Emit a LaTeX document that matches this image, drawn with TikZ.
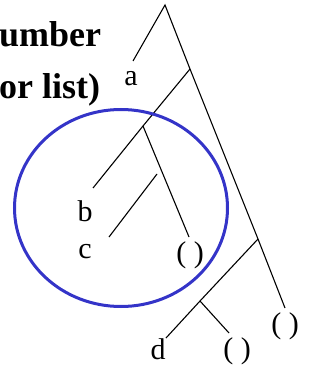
\documentclass[tikz,border=0pt]{standalone}
\usepackage{fontspec}
\usetikzlibrary{shapes.geometric}
\setmainfont{Liberation Serif}
\definecolor{ringblue}{RGB}{52,52,200}
\begin{document}
\begin{tikzpicture}[x=1pt,y=-1pt,
  edge/.style={line width=1.1pt,black},
  lbl/.style={inner sep=0pt,anchor=base,font=\fontsize{30}{30}\selectfont},
  ttl/.style={inner sep=0pt,anchor=base west,font=\fontsize{36}{36}\selectfont\bfseries},
  ring/.style={draw=ringblue,line width=3pt}]
\useasboundingbox (0,0) rectangle (320,366);
% title fragments
\node[ttl] (t1) at (-1,47) {umber};
\node[ttl] (t2) at (-1,99) {or list)};
% tree points
\coordinate (apex) at (165,5);
\coordinate (aend) at (133,61);
\coordinate (j1) at (190,69);
\coordinate (j2) at (143,126);
\coordinate (bend) at (93,188);
\coordinate (p1end) at (189,237);
\coordinate (cstart) at (157,174);
\coordinate (cend) at (109,237);
\coordinate (j3) at (258,239);
\coordinate (rend) at (285,308);
\coordinate (j4) at (200,301);
\coordinate (dend) at (166,338);
\coordinate (p2end) at (229,333);
% labels
\node[lbl] (la) at (131,86) {a};
\node[lbl] (lb) at (85,221) {b};
\node[lbl] (lc) at (85,258) {c};
\node[lbl] (lp1) at (190,262) {( )};
\node[lbl] (lp3) at (285,333) {( )};
\node[lbl] (ld) at (158,359) {d};
\node[lbl] (lp2) at (237,358) {( )};
% edges
\draw[edge] (aend) -- (apex) -- (j1) -- (j3) -- (rend);
\draw[edge] (j1) -- (j2) -- (bend);
\draw[edge] (j2) -- (p1end);
\draw[edge] (cstart) -- (cend);
\draw[edge] (j3) -- (j4) -- (dend);
\draw[edge] (j4) -- (p2end);
% circle
\node[ring,ellipse,minimum width=213pt,minimum height=197pt,inner sep=0pt] (ring) at (121,208) {};
\end{tikzpicture}
\end{document}
